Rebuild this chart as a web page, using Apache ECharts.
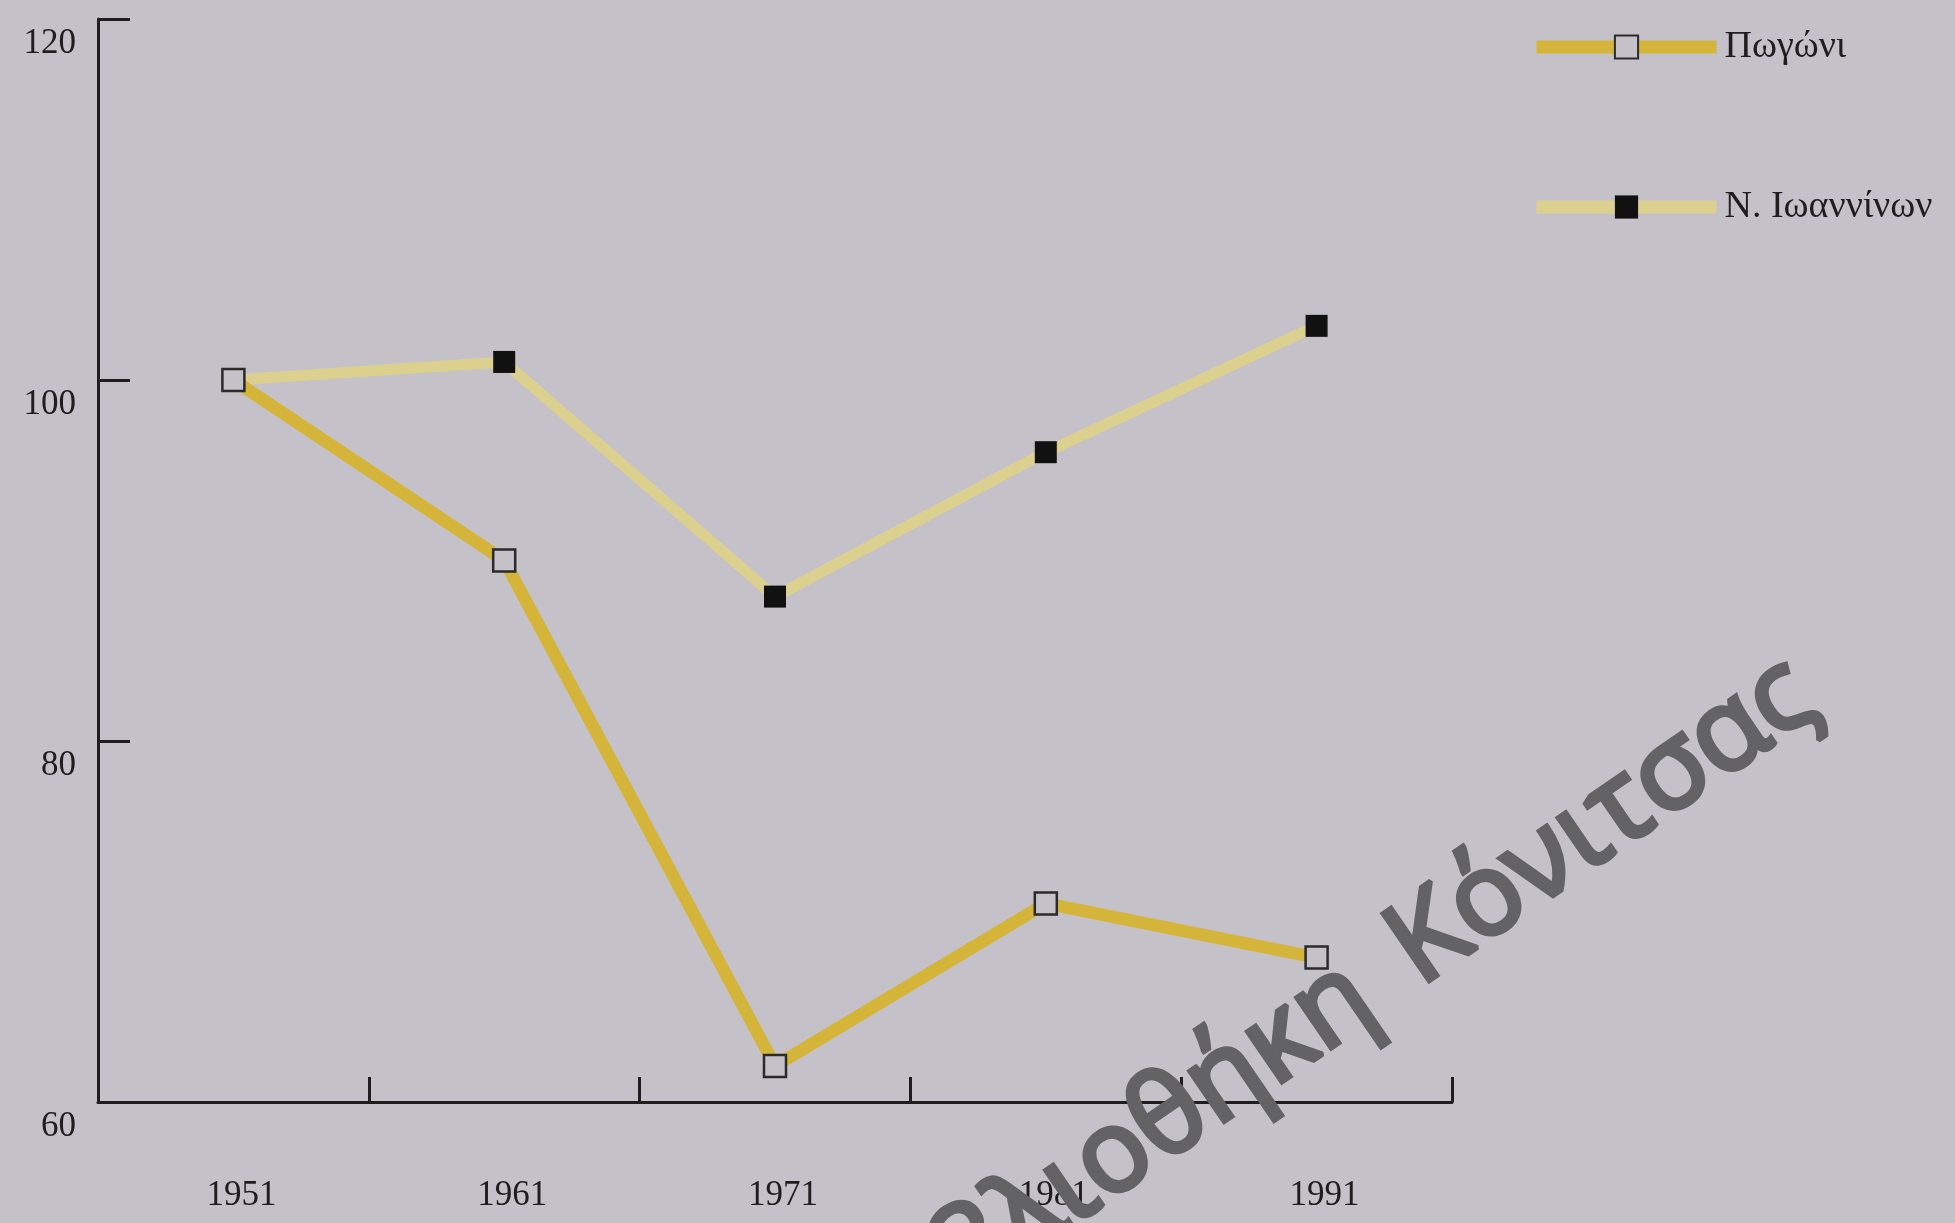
<!DOCTYPE html>
<html>
<head>
<meta charset="utf-8">
<script src="https://cdn.jsdelivr.net/npm/echarts@6/dist/echarts.min.js"></script>
<style>
html,body{margin:0;padding:0;background:#c4c2c8;}
#chart{width:1955px;height:1223px;}
</style>
</head>
<body>
<div id="chart"></div>
<script>
const years = ['1951', '1961', '1971', '1981', '1991'];
const pogoni = [100, 90, 62, 71, 68];
const ioannina = [100, 101, 88, 96, 103];
const yTicks = { min: 60, max: 120, interval: 20 };
const seriesNames = ['Πωγώνι', 'Ν. Ιωαννίνων'];
const watermarkFirst = 'Βιβλιοθήκη';
const watermarkSecond = 'Κόνιτσας';

const bg = '#c4c2c8';
const ink = '#1e1e1e';
const serif = '"Liberation Serif", "DejaVu Serif", serif';

// watermark (scanned library stamp) placement, measured at runtime
const wmSize = 114;
const wmFamily = '"Open Sans", "Noto Sans", sans-serif';
const wmAngle = 34.5 * Math.PI / 180;
const wmWordOrigin = [1414, 978];
const ctx = document.createElement('canvas').getContext('2d');
ctx.font = wmSize + 'px ' + wmFamily;
const wSpace = ctx.measureText(' ').width + 18;
const dir = [Math.cos(wmAngle), -Math.sin(wmAngle)];
const up = [-Math.sin(wmAngle), -Math.cos(wmAngle)];
const mid = 0.19 * wmSize;
const secondX = wmWordOrigin[0] + up[0] * mid;
const secondY = wmWordOrigin[1] + up[1] * mid;
const firstX = secondX - wSpace * dir[0];
const firstY = secondY - wSpace * dir[1];
const wmStyle = {
  fontFamily: wmFamily,
  fontSize: wmSize,
  fill: '#636265',
  stroke: '#636265',
  lineWidth: 5,
  verticalAlign: 'middle'
};

const chart = echarts.init(document.getElementById('chart'));
chart.setOption({
  backgroundColor: bg,
  animation: false,
  grid: { left: 98, right: 503, top: 19, bottom: 121 },
  legend: {
    orient: 'vertical',
    left: 1530,
    top: 28,
    padding: 0,
    itemWidth: 180,
    itemHeight: 29,
    itemGap: 122,
    data: seriesNames,
    lineStyle: { width: 13 },
    textStyle: { fontFamily: serif, fontSize: 38, lineHeight: 29, color: ink, padding: [0, 0, 0, 3] }
  },
  xAxis: {
    type: 'category',
    data: years,
    boundaryGap: true,
    axisLine: { show: true, lineStyle: { color: ink, width: 3 } },
    axisTick: { show: true, interval: 0, alignWithLabel: false, inside: true, length: 25, lineStyle: { color: ink, width: 3 } },
    axisLabel: { fontFamily: serif, fontSize: 35, color: ink, margin: 76, lineHeight: 35, padding: [0, 0, 0, 16] },
    splitLine: { show: false }
  },
  yAxis: {
    type: 'value',
    min: yTicks.min,
    max: yTicks.max,
    interval: yTicks.interval,
    axisLine: { show: true, lineStyle: { color: ink, width: 3 } },
    axisTick: { show: true, inside: true, length: 32, lineStyle: { color: ink, width: 3 } },
    axisLabel: { fontFamily: serif, fontSize: 35, color: ink, margin: 22, verticalAlign: 'top', lineHeight: 50 },
    splitLine: { show: false }
  },
  series: [
    {
      name: seriesNames[0],
      type: 'line',
      data: pogoni,
      z: 4,
      symbol: 'rect',
      symbolSize: 22,
      lineStyle: { color: '#d4b53a', width: 12.5 },
      itemStyle: { color: bg, borderColor: '#2a2a2a', borderWidth: 2.5 }
    },
    {
      name: seriesNames[1],
      type: 'line',
      data: ioannina,
      z: 3,
      symbol: 'rect',
      symbolSize: 22,
      lineStyle: { color: '#dcd08e', width: 11 },
      itemStyle: { color: '#111111', borderColor: '#111111', borderWidth: 0 }
    }
  ],
  graphic: [
    {
      type: 'text',
      x: firstX,
      y: firstY,
      rotation: wmAngle,
      z: 100,
      silent: true,
      style: Object.assign({ text: watermarkFirst, align: 'right' }, wmStyle)
    },
    {
      type: 'text',
      x: secondX,
      y: secondY,
      rotation: wmAngle,
      z: 100,
      silent: true,
      style: Object.assign({ text: watermarkSecond, align: 'left' }, wmStyle)
    }
  ]
});
</script>
</body>
</html>
